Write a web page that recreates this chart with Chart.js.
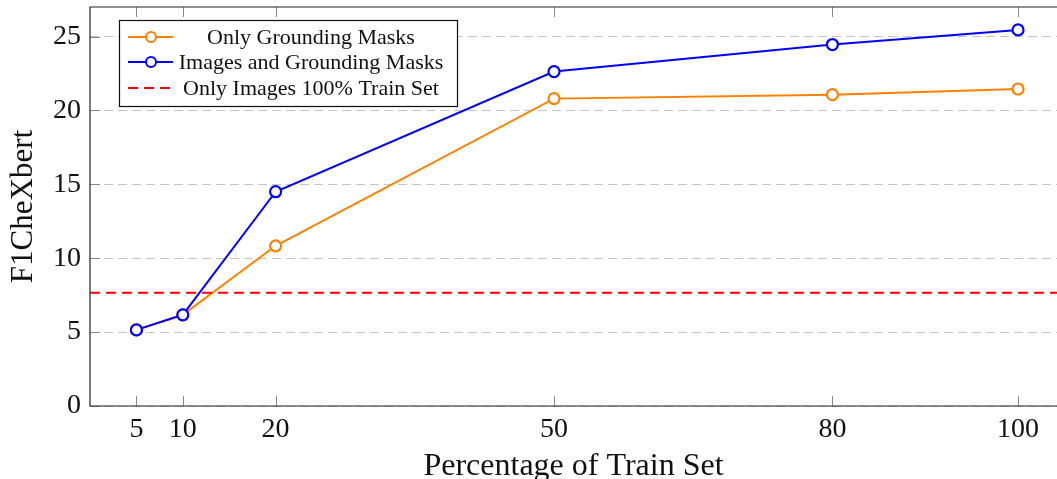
<!DOCTYPE html>
<html>
<head>
<meta charset="utf-8">
<script src="https://cdn.jsdelivr.net/npm/chart.js@4.4.0/dist/chart.umd.min.js"></script>
<style>
  html, body { margin: 0; padding: 0; background: #fff; overflow: hidden; }
  #wrap { width: 1057px; height: 479px; position: relative; }
</style>
</head>
<body>
<div id="wrap"><canvas id="myChart"></canvas></div>
<script>
// values
const trainPct = [5, 10, 20, 50, 80, 100];
const onlyMasks = [5.15, 6.17, 10.84, 20.8, 21.07, 21.45];
const imagesAndMasks = [5.15, 6.17, 14.5, 22.63, 24.46, 25.45];
const onlyImagesFull = 7.66;

const xTicks = [5, 10, 20, 50, 80, 100];
const yTicks = [0, 5, 10, 15, 20, 25];
const xMin = 0, xMax = 104.2;
const yMin = 0, yMax = 27;

const serif = '"Liberation Serif", "DejaVu Serif", serif';

function toPoints(xs, ys) {
    return xs.map((x, i) => ({x: x, y: ys[i]}));
}

// frame, inward ticks and the boxed legend, like pgfplots draws them
const framePlugin = {
    id: 'frame',
    afterDatasetsDraw(chart) {
        const ctx = chart.ctx;
        const a = chart.chartArea;
        const xs = chart.scales.x, ys = chart.scales.y;
        ctx.save();
        ctx.lineWidth = 1;
        ctx.strokeStyle = '#888';
        xTicks.forEach(v => {
            const px = Math.round(xs.getPixelForValue(v)) + 0.5;
            ctx.beginPath();
            ctx.moveTo(px, a.bottom); ctx.lineTo(px, a.bottom - 10);
            ctx.moveTo(px, a.top); ctx.lineTo(px, a.top + 10);
            ctx.stroke();
        });
        yTicks.forEach(v => {
            const py = Math.round(ys.getPixelForValue(v)) + 0.5;
            ctx.beginPath();
            ctx.moveTo(a.left, py); ctx.lineTo(a.left + 10, py);
            ctx.stroke();
        });
        ctx.strokeStyle = '#222';
        ctx.lineWidth = 1.2;
        ctx.beginPath();
        ctx.moveTo(chart.width, a.top);
        ctx.lineTo(a.left, a.top);
        ctx.lineTo(a.left, a.bottom);
        ctx.lineTo(chart.width, a.bottom);
        ctx.stroke();
        ctx.restore();
    },
    afterDraw(chart) {
        const ctx = chart.ctx;
        const a = chart.chartArea;
        const bx = a.left + 29, by = a.top + 13, bw = 338, bh = 86;
        ctx.save();
        ctx.fillStyle = '#fff';
        ctx.fillRect(bx, by, bw, bh);
        ctx.strokeStyle = '#111';
        ctx.lineWidth = 1.2;
        ctx.strokeRect(bx + 0.5, by + 0.5, bw, bh);
        ctx.font = '22px ' + serif;
        ctx.textAlign = 'center';
        ctx.textBaseline = 'middle';
        const rows = [17, 42, 68];
        chart.data.datasets.forEach((ds, i) => {
            const cy = by + rows[i];
            ctx.strokeStyle = ds.borderColor;
            ctx.lineWidth = 2;
            ctx.setLineDash(ds.borderDash || []);
            ctx.beginPath();
            ctx.moveTo(bx + 9, cy); ctx.lineTo(bx + 54, cy);
            ctx.stroke();
            ctx.setLineDash([]);
            if (ds.pointRadius > 0) {
                ctx.fillStyle = '#fff';
                ctx.beginPath();
                ctx.arc(bx + 32, cy, 5, 0, Math.PI * 2);
                ctx.fill();
                ctx.stroke();
            }
            ctx.fillStyle = '#111';
            ctx.fillText(ds.label, bx + 192, cy + 1);
        });
        ctx.restore();
    }
};

function noPad(s) {
    s.paddingTop = 0; s.paddingBottom = 0;
    s.paddingLeft = 0; s.paddingRight = 0;
}

const ctx = document.getElementById('myChart').getContext('2d');

const chart = new Chart(ctx, {
    type: 'line',
    data: {
        datasets: [{
            label: 'Only Grounding Masks',
            data: toPoints(trainPct, onlyMasks),
            borderColor: '#ff8000',
            backgroundColor: '#fff',
            borderWidth: 2,
            pointRadius: 5.5,
            pointBorderWidth: 2.2,
            pointBackgroundColor: '#fff',
            order: 2
        }, {
            label: 'Images and Grounding Masks',
            data: toPoints(trainPct, imagesAndMasks),
            borderColor: '#0000ff',
            backgroundColor: '#fff',
            borderWidth: 2,
            pointRadius: 5.5,
            pointBorderWidth: 2.2,
            pointBackgroundColor: '#fff',
            order: 1
        }, {
            label: 'Only Images 100% Train Set',
            data: [{x: xMin, y: onlyImagesFull}, {x: xMax, y: onlyImagesFull}],
            borderColor: '#ff0000',
            borderWidth: 2,
            borderDash: [10, 6],
            pointRadius: 0,
            order: 0
        }]
    },
    options: {
        responsive: true,
        maintainAspectRatio: false,
        animation: false,
        devicePixelRatio: 1,
        layout: { autoPadding: false, padding: { top: 7, right: 0, left: 0, bottom: 0 } },
        plugins: {
            legend: { display: false },
            tooltip: { enabled: false }
        },
        scales: {
            x: {
                type: 'linear',
                min: xMin,
                max: xMax,
                afterBuildTicks: s => { s.ticks = xTicks.map(v => ({value: v})); },
                afterFit: s => { s.height = 73; noPad(s); },
                grid: { display: false, drawTicks: false },
                border: { display: false },
                ticks: {
                    color: '#111',
                    padding: 7,
                    maxRotation: 0,
                    font: { family: serif, size: 28 }
                },
                title: {
                    display: true,
                    text: 'Percentage of Train Set',
                    color: '#111',
                    padding: { top: 0, bottom: -7 },
                    font: { family: serif, size: 32 }
                }
            },
            y: {
                min: yMin,
                max: yMax,
                afterBuildTicks: s => { s.ticks = yTicks.map(v => ({value: v})); },
                afterFit: s => { s.width = 90; noPad(s); },
                grid: { color: '#c4c4c4', lineWidth: 1, drawTicks: false },
                border: { display: false, dash: [9, 5] },
                ticks: {
                    color: '#111',
                    padding: 9,
                    font: { family: serif, size: 28 }
                },
                title: {
                    display: true,
                    text: 'F1CheXbert',
                    color: '#111',
                    padding: { top: 5, bottom: 0 },
                    font: { family: serif, size: 31 }
                }
            }
        }
    },
    plugins: [framePlugin]
});
</script>
</body>
</html>
